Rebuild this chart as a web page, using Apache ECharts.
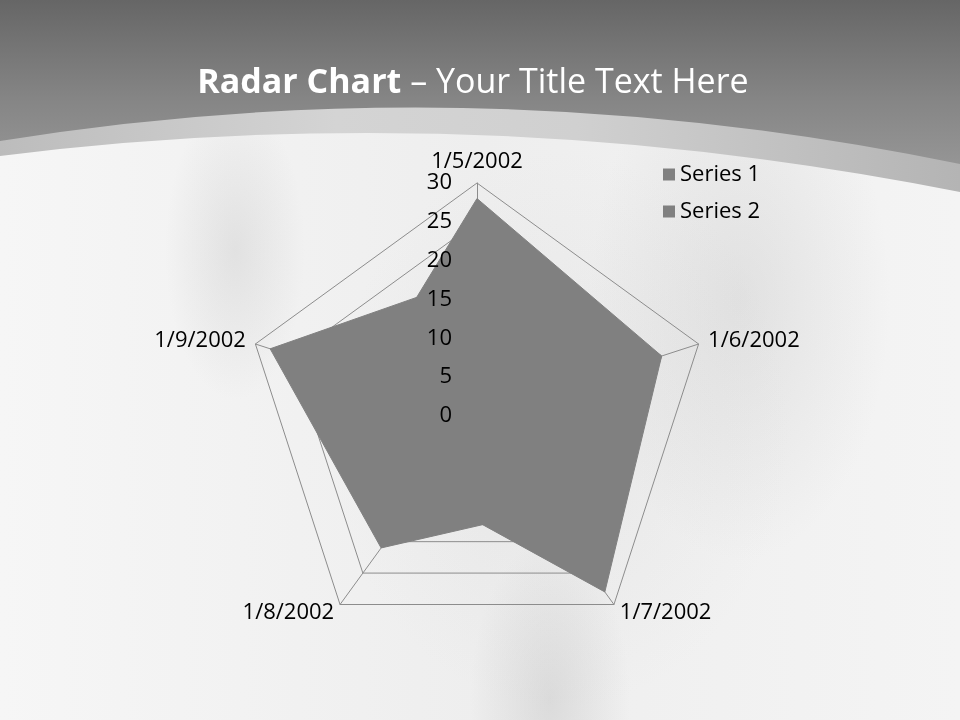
<!DOCTYPE html>
<html>
<head>
<meta charset="utf-8">
<script src="https://cdn.jsdelivr.net/npm/echarts@6/dist/echarts.min.js"></script>
<style>
html,body{margin:0;padding:0;width:960px;height:720px;overflow:hidden;background:#f0f0f0;}
#bg{position:absolute;left:0;top:0;width:960px;height:720px;}
#chart{position:absolute;left:0;top:0;width:960px;height:720px;}
</style>
</head>
<body>
<svg id="bg" width="960" height="720" xmlns="http://www.w3.org/2000/svg">
  <defs>
    <linearGradient id="topg" x1="0" y1="0" x2="0" y2="1">
      <stop offset="0" stop-color="#666666"/>
      <stop offset="0.6" stop-color="#858585"/>
      <stop offset="1" stop-color="#959595"/>
    </linearGradient>
    <linearGradient id="strip" x1="0" y1="0" x2="1" y2="0">
      <stop offset="0" stop-color="#bcbcbc"/>
      <stop offset="0.35" stop-color="#d4d4d4"/>
      <stop offset="0.6" stop-color="#d0d0d0"/>
      <stop offset="1" stop-color="#b4b4b4"/>
    </linearGradient>
    <linearGradient id="base" x1="0" y1="0" x2="1" y2="0">
      <stop offset="0" stop-color="#f6f6f6"/>
      <stop offset="0.5" stop-color="#eeeeee"/>
      <stop offset="1" stop-color="#f4f4f4"/>
    </linearGradient>
    <radialGradient id="blob" cx="0.5" cy="0.5" r="0.5">
      <stop offset="0" stop-color="#bdbdbd" stop-opacity="0.45"/>
      <stop offset="0.6" stop-color="#bdbdbd" stop-opacity="0.18"/>
      <stop offset="1" stop-color="#bdbdbd" stop-opacity="0"/>
    </radialGradient>
  </defs>
  <rect x="0" y="0" width="960" height="720" fill="url(#base)"/>
  <ellipse cx="235" cy="250" rx="70" ry="150" fill="url(#blob)" opacity="0.7"/>
  <ellipse cx="740" cy="300" rx="150" ry="260" fill="url(#blob)" opacity="0.7"/>
  <ellipse cx="560" cy="430" rx="230" ry="280" fill="url(#blob)" opacity="0.35"/>
  <ellipse cx="550" cy="700" rx="80" ry="160" fill="url(#blob)" opacity="0.9"/>
  <path d="M0,156 Q476,96 960,192 L960,0 L0,0 Z" fill="url(#strip)"/>
  <path d="M0,141 Q476,64 960,164 L960,0 L0,0 Z" fill="url(#topg)"/>
</svg>
<div id="chart"></div>
<script>
// ---- data ----
const categories = ['1/5/2002', '1/6/2002', '1/7/2002', '1/8/2002', '1/9/2002'];
const seriesNames = ['Series 1', 'Series 2'];
const series1 = [28, 25, 28, 12, 15];
const series2 = [18, 12, 15, 21, 28];
const axisMin = 0;
const axisMax = 30;
const axisStep = 5;

// ECharts places radar indicators counter-clockwise; reference goes clockwise from top
const order = [0, 4, 3, 2, 1];
const FONT = 'Open Sans';
const GRAY = '#808080';

const chart = echarts.init(document.getElementById('chart'), null, {renderer: 'canvas'});
chart.setOption({
  animation: false,
  backgroundColor: 'transparent',
  title: {
    text: '{b|Radar Chart} – Your Title Text Here',
    left: 468,
    textAlign: 'center',
    top: 61,
    textStyle: {
      color: '#ffffff', fontSize: 34, fontFamily: FONT, fontWeight: 'normal',
      rich: { b: { color: '#ffffff', fontSize: 34, fontFamily: FONT, fontWeight: 'bold' } }
    }
  },
  legend: {
    orient: 'vertical',
    left: 663,
    top: 163,
    padding: 0,
    itemWidth: 12,
    itemHeight: 12,
    itemGap: 14,
    icon: 'rect',
    data: seriesNames,
    textStyle: { color: '#000', fontFamily: FONT, fontSize: 22, lineHeight: 23 }
  },
  radar: {
    center: [477, 416],
    radius: 233,
    startAngle: 90,
    splitNumber: (axisMax - axisMin) / axisStep,
    shape: 'polygon',
    indicator: order.map(i => ({ name: categories[i], min: axisMin, max: axisMax })),
    nameGap: 10,
    axisName: { color: '#000', fontFamily: FONT, fontSize: 22 },
    axisLine: { lineStyle: { color: '#8c8c8c', width: 1 } },
    splitLine: { lineStyle: { color: '#8c8c8c', width: 1 } },
    splitArea: { show: false },
    axisTick: { show: false },
    axisLabel: { show: false }
  },
  grid: { left: 477, top: 183, width: 1, height: 233, containLabel: false, outerBoundsMode: 'none' },
  xAxis: { type: 'value', show: false, min: 0, max: 1 },
  yAxis: {
    type: 'value', min: axisMin, max: axisMax, interval: axisStep, z: 10,
    axisLine: { show: false }, axisTick: { show: false }, splitLine: { show: false },
    axisLabel: { margin: 25, color: '#000', fontFamily: FONT, fontSize: 22 }
  },
  series: [{
    type: 'radar',
    symbol: 'none',
    z: 2,
    itemStyle: { color: GRAY },
    lineStyle: { color: GRAY, width: 1 },
    areaStyle: { color: GRAY, opacity: 1 },
    data: [
      { name: seriesNames[0], value: order.map(i => series1[i]) },
      { name: seriesNames[1], value: order.map(i => series2[i]) }
    ]
  }]
});
</script>
</body>
</html>
